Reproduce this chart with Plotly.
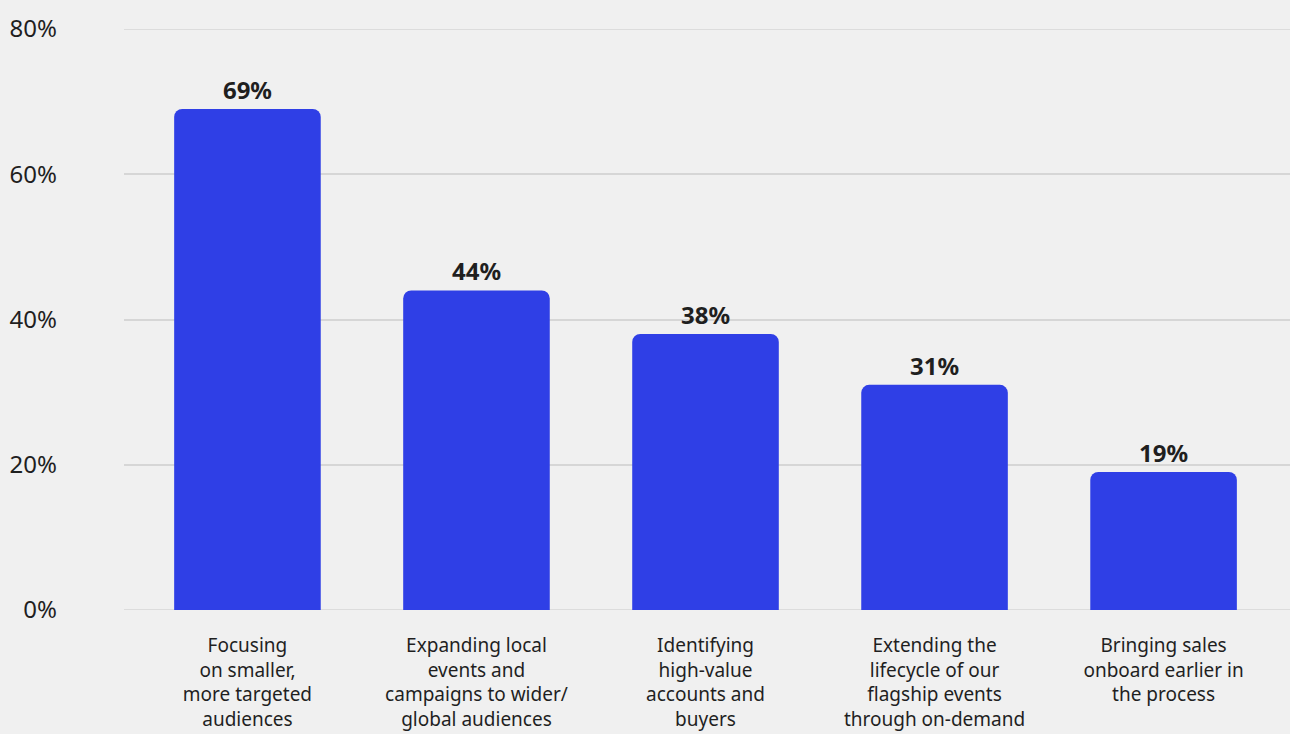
import plotly.graph_objects as go

categories = [
    "Focusing<br>on smaller,<br>more targeted<br>audiences",
    "Expanding local<br>events and<br>campaigns to wider/<br>global audiences",
    "Identifying<br>high-value<br>accounts and<br>buyers",
    "Extending the<br>lifecycle of our<br>flagship events<br>through on-demand",
    "Bringing sales<br>onboard earlier in<br>the process",
]
values = [69, 44, 38, 31, 19]
value_labels = ["69%", "44%", "38%", "31%", "19%"]
y_ticks = [0, 20, 40, 60, 80]
y_tick_labels = ["0%", "20%", "40%", "60%", "80%"]

FONT = "Source Sans Pro, Noto Sans, sans-serif"
GRID = "#d6d6d6"

fig = go.Figure(
    go.Bar(
        x=categories,
        y=values,
        text=value_labels,
        textposition="outside",
        cliponaxis=False,
        textfont=dict(family=FONT, size=24, color="#1f1f1f", weight="bold"),
        marker=dict(color="#2f3fe6", cornerradius=8, line=dict(width=0)),
        width=0.64,
        hoverinfo="skip",
    )
)

fig.update_layout(
    width=1290,
    height=734,
    margin=dict(l=124, r=0, t=29, b=124, autoexpand=False),
    paper_bgcolor="#f0f0f0",
    plot_bgcolor="#f0f0f0",
    font=dict(family=FONT, color="#1f1f1f"),
    showlegend=False,
    xaxis=dict(
        range=[-0.539, 4.552],
        showgrid=False,
        zeroline=False,
        showline=False,
        ticks="",
        tickfont=dict(family=FONT, size=19, color="#1f1f1f"),
        ticklabelstandoff=22,
        automargin=False,
    ),
    yaxis=dict(
        range=[0, 80],
        tickvals=y_ticks,
        ticktext=y_tick_labels,
        showgrid=True,
        gridcolor=GRID,
        gridwidth=1.5,
        zeroline=False,
        showline=False,
        ticks="",
        tickfont=dict(family=FONT, size=24, color="#1f1f1f"),
        ticklabelstandoff=66,
        automargin=False,
    ),
)
for yv in (y_ticks[0], y_ticks[-1]):
    fig.add_shape(type="line", xref="paper", yref="y", x0=0, x1=1, y0=yv, y1=yv,
                  line=dict(color=GRID, width=1.5), layer="below")

fig.write_html("out.html")
